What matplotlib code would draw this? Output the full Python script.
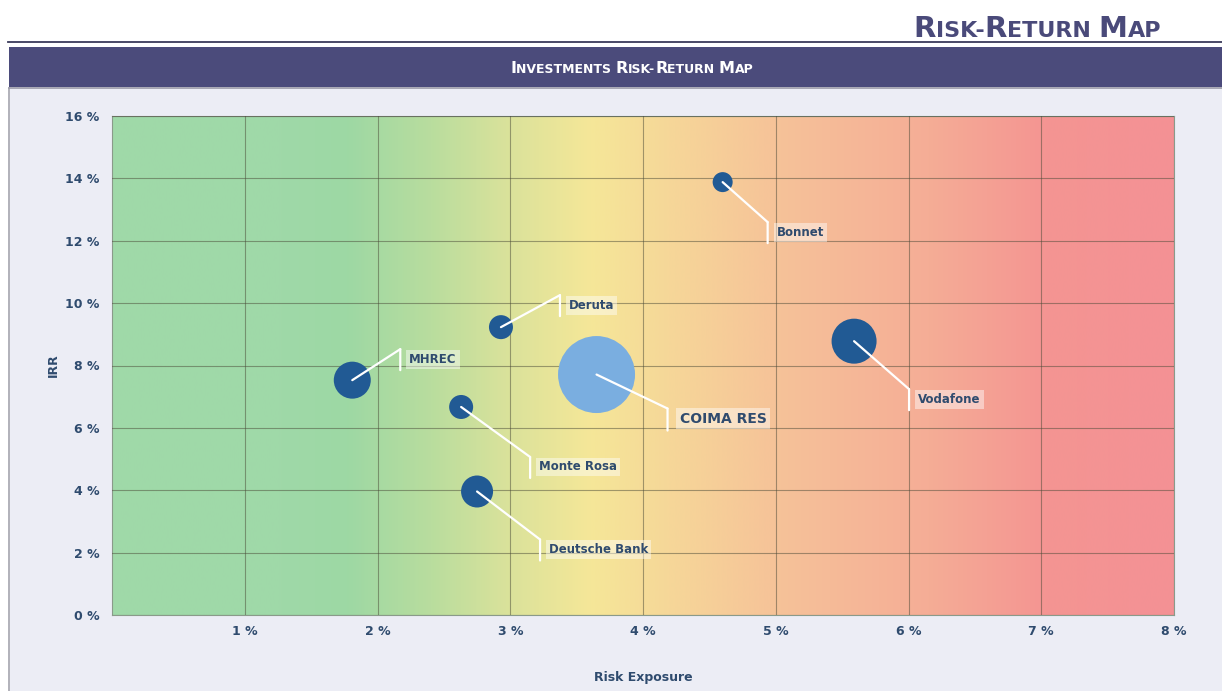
import matplotlib
matplotlib.use("Agg")
import matplotlib.pyplot as plt
import numpy as np
from matplotlib.colors import LinearSegmentedColormap
from matplotlib.patches import Rectangle
from matplotlib.lines import Line2D
from matplotlib.transforms import ScaledTranslation

# ---------------- data ----------------
names = ["Bonnet", "Deruta", "MHREC", "COIMA RES", "Monte Rosa", "Deutsche Bank", "Vodafone"]
risk = [4.60, 2.93, 1.81, 3.65, 2.63, 2.75, 5.59]          # Risk Exposure (%)
irr = [13.88, 9.23, 7.53, 7.71, 6.67, 3.96, 8.78]           # IRR (%)
bubble = [10, 12, 18.5, 38.5, 12, 16, 22.5]                 # bubble size (radius units)
highlight = [False, False, False, True, False, False, False]

x_ticks = [1, 2, 3, 4, 5, 6, 7, 8]
x_tick_labels = ["1 %", "2 %", "3 %", "4 %", "5 %", "6 %", "7 %", "8 %"]
y_ticks = [0, 2, 4, 6, 8, 10, 12, 14, 16]
y_tick_labels = ["0 %", "2 %", "4 %", "6 %", "8 %", "10 %", "12 %", "14 %", "16 %"]

# label elbow offsets in pixels (dx right, dy down) from bubble center
label_dx = [45, 59, 48, 71, 69, 63, 55]
label_dy = [40, -32, -31, 34, 50, 48, 48]

W, H, DPI = 1222, 691, 100
fig = plt.figure(figsize=(W / DPI, H / DPI), dpi=DPI)
fig.patch.set_facecolor("white")

FONT = "DejaVu Sans"
TXT = "#2f4b6e"

def fx(px):
    return px / W

def fy(py):
    return 1 - py / H

# background panels
fig.add_artist(Rectangle((fx(8), 0), fx(W - 8), fy(88), transform=fig.transFigure,
                         facecolor="#ecedf5", edgecolor="none", zorder=0))
fig.add_artist(Line2D([fx(8.5), fx(8.5)], [0, fy(88)], transform=fig.transFigure,
                      color="#a8a8b0", lw=1.2, zorder=1))
fig.add_artist(Rectangle((fx(9), fy(87)), fx(W - 9), fy(47) - fy(87), transform=fig.transFigure,
                         facecolor="#4b4b7b", edgecolor="none", zorder=1))
fig.add_artist(Line2D([fx(9), 1], [fy(88), fy(88)], transform=fig.transFigure,
                      color="#9a9aa8", lw=1.2, zorder=1))
fig.add_artist(Line2D([fx(8), 1], [fy(42), fy(42)], transform=fig.transFigure,
                      color="#3a3a5a", lw=1.3, zorder=1))

renderer = fig.canvas.get_renderer()

def small_caps(text, x_px, y_px, big, small, color, ha="left", weight="bold"):
    runs = []
    for c in text:
        is_big = c.isupper()
        if runs and runs[-1][1] == is_big:
            runs[-1][0] += c.upper()
        else:
            runs.append([c.upper(), is_big])
    widths = []
    for s, b in runs:
        t = fig.text(0, 0, s, fontsize=big if b else small, fontweight=weight,
                     family=FONT, color=color)
        widths.append(t.get_window_extent(renderer).width)
        t.remove()
    total = sum(widths)
    if ha == "center":
        x = x_px - total / 2
    elif ha == "right":
        x = x_px - total
    else:
        x = x_px
    for (s, b), w in zip(runs, widths):
        fig.text(fx(x), fy(y_px), s, fontsize=big if b else small, fontweight=weight,
                 family=FONT, color=color, va="baseline", ha="left", zorder=5)
        x += w

small_caps("Risk-Return Map", 1161, 37, 21, 16, "#4a4a7a", ha="right", weight="semibold")
small_caps("Investments Risk-Return Map", 632, 73, 11.5, 9, "white", ha="center")

# ---------------- axes ----------------
ax = fig.add_axes([fx(112), fy(615), fx(1174) - fx(112), fy(116) - fy(615)])
ax.set_xlim(0, 8)
ax.set_ylim(0, 16)

stops = [
    (0.00, "#a0d9a9"),
    (0.16, "#9fd9a8"),
    (0.22, "#9dd8a4"),
    (0.30, "#b9dd9e"),
    (0.37, "#d9e29b"),
    (0.45, "#f5e798"),
    (0.52, "#f6d898"),
    (0.63, "#f6c299"),
    (0.77, "#f5ad96"),
    (0.88, "#f49592"),
    (1.00, "#f49195"),
]
cmap = LinearSegmentedColormap.from_list("rr", stops)
grad = np.linspace(0, 1, 512).reshape(1, -1)
ax.imshow(grad, cmap=cmap, extent=[0, 8, 0, 16], aspect="auto", zorder=0,
          interpolation="bicubic")

ax.set_xticks(x_ticks)
ax.set_xticklabels(x_tick_labels)
ax.set_yticks(y_ticks)
ax.set_yticklabels(y_tick_labels)
ax.tick_params(length=0, labelsize=9, labelcolor=TXT)
ax.tick_params(axis="x", pad=7)
ax.tick_params(axis="y", pad=9)
for lab in ax.get_xticklabels() + ax.get_yticklabels():
    lab.set_fontweight("bold")
    lab.set_family(FONT)
ax.grid(True, color="#4a4a38", alpha=0.5, lw=0.8, zorder=1)
ax.set_axisbelow(False)
for s in ax.spines.values():
    s.set_color("#8a9a8a")
    s.set_linewidth(0.8)

ax.set_xlabel("Risk Exposure", fontsize=9, fontweight="bold", color=TXT, family=FONT, labelpad=24)
ax.set_ylabel("IRR", fontsize=9, fontweight="bold", color=TXT, family=FONT, labelpad=4)

# bubbles
sizes = [(2 * r * 72 / DPI) ** 2 for r in bubble]
colors = ["#7aaee0" if h else "#215a94" for h in highlight]
ax.scatter(risk, irr, s=sizes, c=colors, zorder=3, edgecolors="none")

# labels with leader lines
for n, x, y, dx, dy, h in zip(names, risk, irr, label_dx, label_dy, highlight):
    ax.annotate("", xy=(x, y), xytext=(dx, -dy), textcoords="offset pixels",
                arrowprops=dict(arrowstyle="-", color="white", lw=1.6, shrinkA=0, shrinkB=0),
                zorder=4)
    trans = ax.transData + ScaledTranslation(dx / DPI, -dy / DPI, fig.dpi_scale_trans)
    ax.annotate("", xy=(x, y), xycoords=trans, xytext=(0, -22 if h else -21),
                textcoords="offset pixels",
                arrowprops=dict(arrowstyle="-", color="white", lw=1.6, shrinkA=0, shrinkB=0),
                zorder=4)
    ax.annotate(n, xy=(x, y), xytext=(dx + (12 if h else 9), -(dy + 10)),
                textcoords="offset pixels", ha="left", va="center",
                fontsize=10 if h else 8.5, fontweight="bold", color=TXT, family=FONT,
                bbox=dict(boxstyle="square,pad=0.25", facecolor="white", alpha=0.45,
                          edgecolor="none"),
                zorder=5)

fig.savefig("out.png", dpi=DPI)
